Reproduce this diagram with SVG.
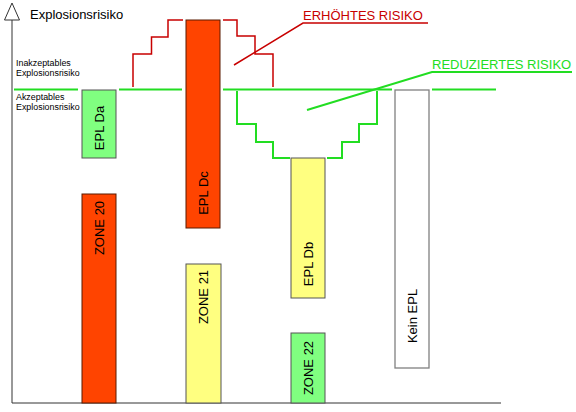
<svg xmlns="http://www.w3.org/2000/svg" width="576" height="412" viewBox="0 0 576 412">
<style>
text{font-family:"Liberation Sans",Arial,sans-serif;fill:#000}
.lbl{font-size:13px;text-anchor:middle}
.small{font-size:8.9px}
.red{fill:#FF4400;stroke:#5a1a00;stroke-width:1}
.yel{fill:#FFFF80;stroke:#555;stroke-width:1}
.grn{fill:#80FF80;stroke:#555;stroke-width:1}
.wht{fill:#fff;stroke:#808080;stroke-width:1.3}
.gl{fill:none;stroke:#22DD22;stroke-width:2}
.rl{fill:none;stroke:#C80000;stroke-width:1.5}
.ax{fill:none;stroke:#333;stroke-width:1}
</style>
<rect width="576" height="412" fill="#fff"/>
<g id="axes">
<path class="ax" d="M12,20 V403 H501"/>
<path class="ax" d="M12,3 L4.5,20 H19.5 Z" fill="#fff"/>
<text x="30" y="19" font-size="13">Explosionsrisiko</text>
<text class="small" x="16" y="66">Inakzeptables</text>
<text class="small" x="16" y="76">Explosionsrisiko</text>
<text class="small" x="16" y="100">Akzeptables</text>
<text class="small" x="16" y="110">Explosionsrisiko</text>
</g>
<g id="connectors">
<path class="gl" d="M14,89.5 H78 M119,89.5 H182 M223,89.5 H392 M432,89.5 H496"/>
<path class="rl" d="M133,87 V54 H151.5 V37 H168 V20 H183"/>
<path class="rl" d="M223,20 H237 V36 H255 V54 H273 V87"/>
<path class="rl" d="M234,65 L303,23 H428"/>
<path class="gl" d="M237,91 V124 H256 V142 H273 V158 H290"/>
<path class="gl" d="M327,158 H342 V142 H359 V124 H377 V91"/>
<path class="gl" d="M307,110 L432,72 H572" stroke-width="1.5"/>
</g>
<g id="label-erhoeht"><text x="303" y="20" font-size="13" style="fill:#C80000">ERHÖHTES RISIKO</text></g>
<g id="label-reduziert"><text x="432" y="69" font-size="13" style="fill:#22DD22">REDUZIERTES RISIKO</text></g>
<g id="epl-da"><rect class="grn" x="82" y="90" width="34" height="68"/><text class="lbl" transform="translate(104,128) rotate(-90)">EPL Da</text></g>
<g id="zone-20"><rect class="red" x="82" y="194" width="34" height="209"/><text class="lbl" transform="translate(104,228) rotate(-90)">ZONE 20</text></g>
<g id="epl-dc"><rect class="red" x="186" y="20" width="34" height="208"/><text class="lbl" transform="translate(208,193) rotate(-90)">EPL Dc</text></g>
<g id="zone-21"><rect class="yel" x="186" y="264" width="35" height="139"/><text class="lbl" transform="translate(208,297) rotate(-90)">ZONE 21</text></g>
<g id="epl-db"><rect class="yel" x="291" y="158" width="34" height="140"/><text class="lbl" transform="translate(313,264) rotate(-90)">EPL Db</text></g>
<g id="zone-22"><rect class="grn" x="291" y="333" width="34" height="70"/><text class="lbl" transform="translate(313,368) rotate(-90)">ZONE 22</text></g>
<g id="kein-epl"><rect class="wht" x="395" y="90" width="34" height="278"/><text class="lbl" transform="translate(417,316) rotate(-90)">Kein EPL</text></g>
</svg>
